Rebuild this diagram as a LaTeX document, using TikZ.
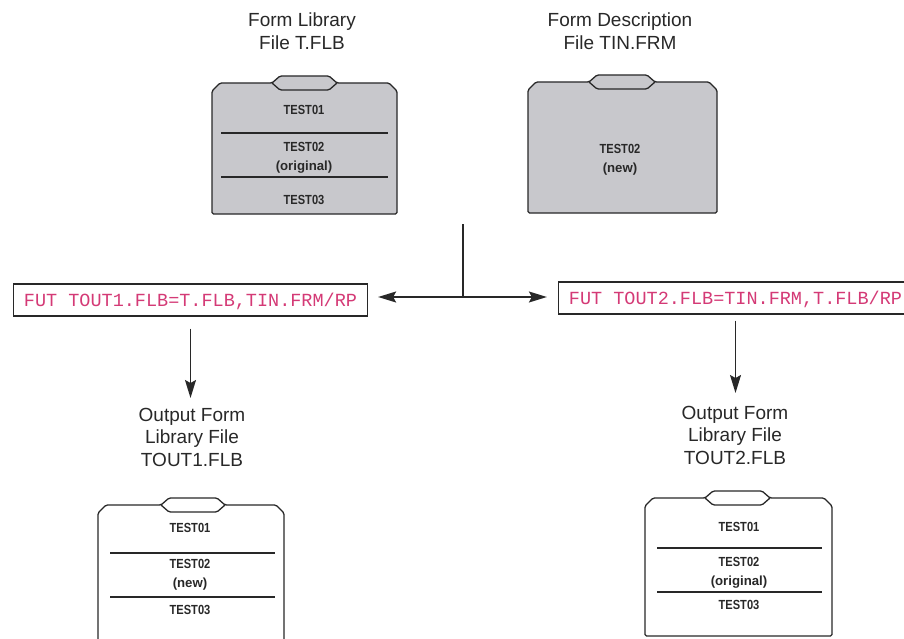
\documentclass[tikz,border=0pt]{standalone}
\usepackage{fontspec}
\usepackage{graphicx}
\setmainfont{Liberation Sans}
\newfontfamily\cmdfont{Liberation Mono}
\usetikzlibrary{arrows.meta}

\definecolor{foldergray}{RGB}{200,200,204}
\definecolor{cmdpink}{RGB}{212,58,118}
\definecolor{ink}{RGB}{40,40,40}

% condensed bold record name
\newcommand\tst[1]{\scalebox{0.84}[1]{#1}}

% file folder: #1 left, #2 right, #3 shoulder y, #4 bottom y,
% #5 tab left, #6 tab right, #7 fill colour
\newcommand\filefolder[7]{%
  \filldraw[folder, fill=#7]
    (#1,#4) -- (#1,#3+8) -- (#1+8,#3) -- (#5,#3) -- (#5+8,#3-7)
    -- (#6-8,#3-7) -- (#6,#3) -- (#2-8,#3) -- (#2,#3+8) -- (#2,#4) -- cycle;
  \draw[folder] (#5,#3) -- (#5+8,#3+7) -- (#6-8,#3+7) -- (#6,#3);
}

\begin{document}
\begin{tikzpicture}[x=1pt,y=-1pt,
  title/.style={font=\fontsize{19}{22.5}\selectfont, text=ink, align=center,
                inner sep=0pt, anchor=north},
  cmd/.style={draw=ink, line width=1.2pt,
              font=\cmdfont\fontsize{18.5}{20}\selectfont, text=cmdpink,
              text height=12.2pt, text depth=0pt, inner xsep=10.5pt,
              minimum height=32pt},
  flow/.style={draw=ink, line width=1.3pt,
               -{Stealth[length=18pt,width=11pt,inset=3pt]}},
  wire/.style={draw=ink, line width=1.3pt},
  folder/.style={draw=ink, line width=1.3pt, rounded corners=1.5pt,
                 line join=round},
  sepline/.style={draw=ink, line width=1.1pt},
  entry/.style={font=\bfseries\fontsize{13.2}{18.5}\selectfont, text=ink,
                align=center, inner sep=0pt}
]
\useasboundingbox (0,0) rectangle (904,639);
\clip (0,0) rectangle (904,639);

% ---- input form library T.FLB ----
\node[title] (libtitle) at (302,13) {Form Library\\File T.FLB};
\filefolder{212}{397}{83}{214}{272}{337}{foldergray}
\draw[sepline] (221,133) -- (388,133);
\draw[sepline] (221,177) -- (388,177);
\node[entry] (lib1) at (304,110) {\tst{TEST01}};
\node[entry] (lib2) at (304,158) {\tst{TEST02}\\(original)};
\node[entry] (lib3) at (304,200) {\tst{TEST03}};

% ---- form description file TIN.FRM ----
\node[title] (frmtitle) at (620,13) {Form Description\\File TIN.FRM};
\filefolder{528}{717}{82}{213}{589}{655}{foldergray}
\node[entry] (frm2) at (620,160) {\tst{TEST02}\\(new)};

% ---- the two FUT commands ----
\coordinate (feed) at (463,224);
\coordinate (junction) at (463,297);
\node[cmd] (lbox) at (190.5,300) {FUT TOUT1.FLB=T.FLB,TIN.FRM/RP};
\node[cmd] (rbox) at (735.5,298) {FUT TOUT2.FLB=TIN.FRM,T.FLB/RP};

\draw[wire] (feed) -- (junction);
\draw[flow, shorten >=10pt] (junction) -- (junction -| lbox.east);
\draw[flow, shorten >=11pt] (junction) -- (junction -| rbox.west);

% ---- output library TOUT1.FLB ----
\node[title] (lout) at (192,408) {Output Form\\Library File\\TOUT1.FLB};
\draw[flow, shorten <=12pt, shorten >=10pt] (lbox.south) -- (lbox.south |- lout.north);
\filefolder{98}{284}{505}{660}{161}{225}{white}
\draw[sepline] (110,553) -- (275,553);
\draw[sepline] (110,597) -- (275,597);
\node[entry] (out11) at (190,528) {\tst{TEST01}};
\node[entry] (out12) at (190,575) {\tst{TEST02}\\(new)};
\node[entry] (out13) at (190,610) {\tst{TEST03}};

% ---- output library TOUT2.FLB ----
\node[title] (rout) at (735,406) {Output Form\\Library File\\TOUT2.FLB};
\draw[flow, shorten <=6pt, shorten >=13pt] (rbox.south) -- (rbox.south |- rout.north);
\filefolder{645}{832}{498}{636}{705}{770}{white}
\draw[sepline] (657,548) -- (822,548);
\draw[sepline] (657,592) -- (822,592);
\node[entry] (out21) at (739,527) {\tst{TEST01}};
\node[entry] (out22) at (739,573) {\tst{TEST02}\\(original)};
\node[entry] (out23) at (739,605) {\tst{TEST03}};
\end{tikzpicture}
\end{document}
